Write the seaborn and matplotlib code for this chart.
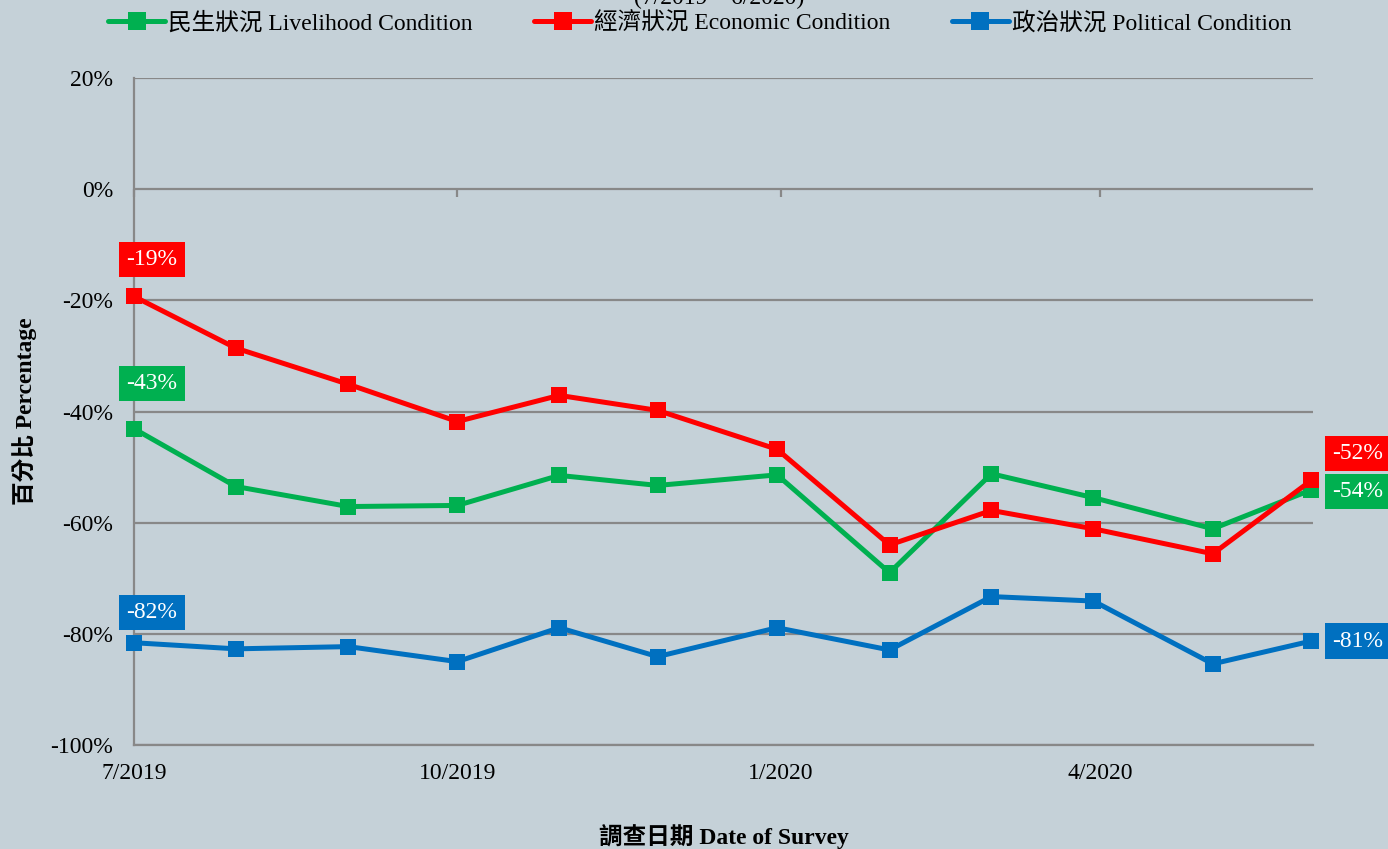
import pandas as pd
import matplotlib
matplotlib.use('Agg')
import matplotlib.pyplot as plt
import matplotlib.dates as mdates
from matplotlib.ticker import FuncFormatter, MultipleLocator
import seaborn as sns

# Survey dates and net values (%)
fechas = ['2019-07-01', '2019-07-30', '2019-08-31', '2019-10-01', '2019-10-30', '2019-11-27',
          '2019-12-31', '2020-02-01', '2020-03-01', '2020-03-30', '2020-05-03', '2020-05-31']
livelihood = [-43.1, -53.5, -57.1, -56.9, -51.5, -53.3, -51.4, -69.0, -51.2, -55.5, -61.1, -54.1]
economic = [-19.3, -28.6, -35.1, -41.8, -37.1, -39.8, -46.8, -64.0, -57.8, -61.1, -65.6, -52.4]
political = [-81.6, -82.7, -82.3, -85.0, -78.9, -84.1, -78.9, -82.9, -73.3, -74.1, -85.4, -81.3]

series_names = ['民生狀況 Livelihood Condition', '經濟狀況 Economic Condition', '政治狀況 Political Condition']
cores = ['#00B050', '#FF0000', '#0070C0']

df = pd.DataFrame({'Data': pd.to_datetime(fechas)})
valores = [livelihood, economic, political]

fundo = '#C5D1D8'
cinza = '#888888'

sns.set_style('white')
plt.rcParams['font.family'] = ['Liberation Serif', 'Noto Sans CJK TC']
plt.rcParams['font.size'] = 17
plt.rcParams['text.color'] = 'black'
plt.rcParams['axes.labelcolor'] = 'black'
plt.rcParams['xtick.color'] = 'black'
plt.rcParams['ytick.color'] = 'black'
plt.rcParams['axes.unicode_minus'] = False

fig = plt.figure(figsize=(13.88, 8.49), dpi=100, facecolor=fundo)
ax = fig.add_axes([134 / 1388, 1 - 745 / 849, (1313 - 134) / 1388, (745 - 78) / 849])
ax.set_facecolor(fundo)

for nome, vals, cor in zip(series_names, valores, cores):
    sns.lineplot(x=df['Data'], y=vals, ax=ax, color=cor, linewidth=3.6, marker='s',
                 markersize=11, markeredgewidth=0, label=nome, clip_on=False, zorder=3)

# offsets (pixels) for first / last labels
off_ini = [(18, 45), (18, 37), (18, 30)]
off_fim = [(46, -2), (46, 27), (46, 0)]
for vals, cor, o1, o2 in zip(valores, cores, off_ini, off_fim):
    for idx, off in ((0, o1), (-1, o2)):
        ax.annotate(f'{round(vals[idx]):d}%', xy=(df['Data'].iloc[idx], vals[idx]),
                    xytext=off, textcoords='offset pixels', ha='center', va='center',
                    color='white', fontsize=17, annotation_clip=False, zorder=4,
                    bbox=dict(boxstyle='square,pad=0.3', fc=cor, ec='none'))

inicio = pd.Timestamp('2019-07-01')
ax.set_xlim(inicio, inicio + pd.Timedelta(days=335.5))
ax.set_ylim(-100, 20)
ax.yaxis.set_major_locator(MultipleLocator(20))
ax.yaxis.set_major_formatter(FuncFormatter(lambda v, p: f'{int(round(v))}%'))
ax.xaxis.set_major_locator(mdates.MonthLocator(bymonth=[1, 4, 7, 10]))
ax.xaxis.set_major_formatter(FuncFormatter(lambda v, p: f'{mdates.num2date(v).month}/{mdates.num2date(v).year}'))

ax.grid(True, axis='y', color=cinza, linewidth=1.6)
ax.grid(False, axis='x')
sns.despine(ax=ax)
for lado in ['left', 'bottom']:
    ax.spines[lado].set_color(cinza)
    ax.spines[lado].set_linewidth(1.6)
ax.tick_params(axis='y', length=5, width=1.6, color=cinza, labelcolor='black', pad=10, labelsize=17)
ax.tick_params(axis='x', length=0, pad=13, labelcolor='black', labelsize=17)

# small ticks hanging from the 0% line
sec = ax.secondary_xaxis(100 / 120)
sec.xaxis.set_major_locator(mdates.MonthLocator(bymonth=[1, 4, 7, 10]))
sec.tick_params(axis='x', direction='in', length=6, width=1.6, color=cinza, labeltop=False, labelbottom=False)
for s in sec.spines.values():
    s.set_visible(False)

ax.set_xlabel('調查日期 Date of Survey', fontsize=17, fontweight='bold')
ax.xaxis.set_label_coords(0.5, -0.118)
ax.set_ylabel('百分比 Percentage', fontsize=17, fontweight='bold')
ax.yaxis.set_label_coords(-0.082, 0.5)

ax.legend(loc='center', bbox_to_anchor=(700 / 1388, 1 - 23 / 849), bbox_transform=fig.transFigure,
          ncol=3, frameon=False, fontsize=17, handlelength=2.4, handletextpad=0.15,
          columnspacing=2.6, markerscale=1.2)

fig.text(719 / 1388, 1 - 4 / 849, '(7/2019 – 6/2020)', ha='center', va='baseline', fontsize=17)

plt.savefig('out.png', dpi=100, facecolor=fundo)
plt.close()
